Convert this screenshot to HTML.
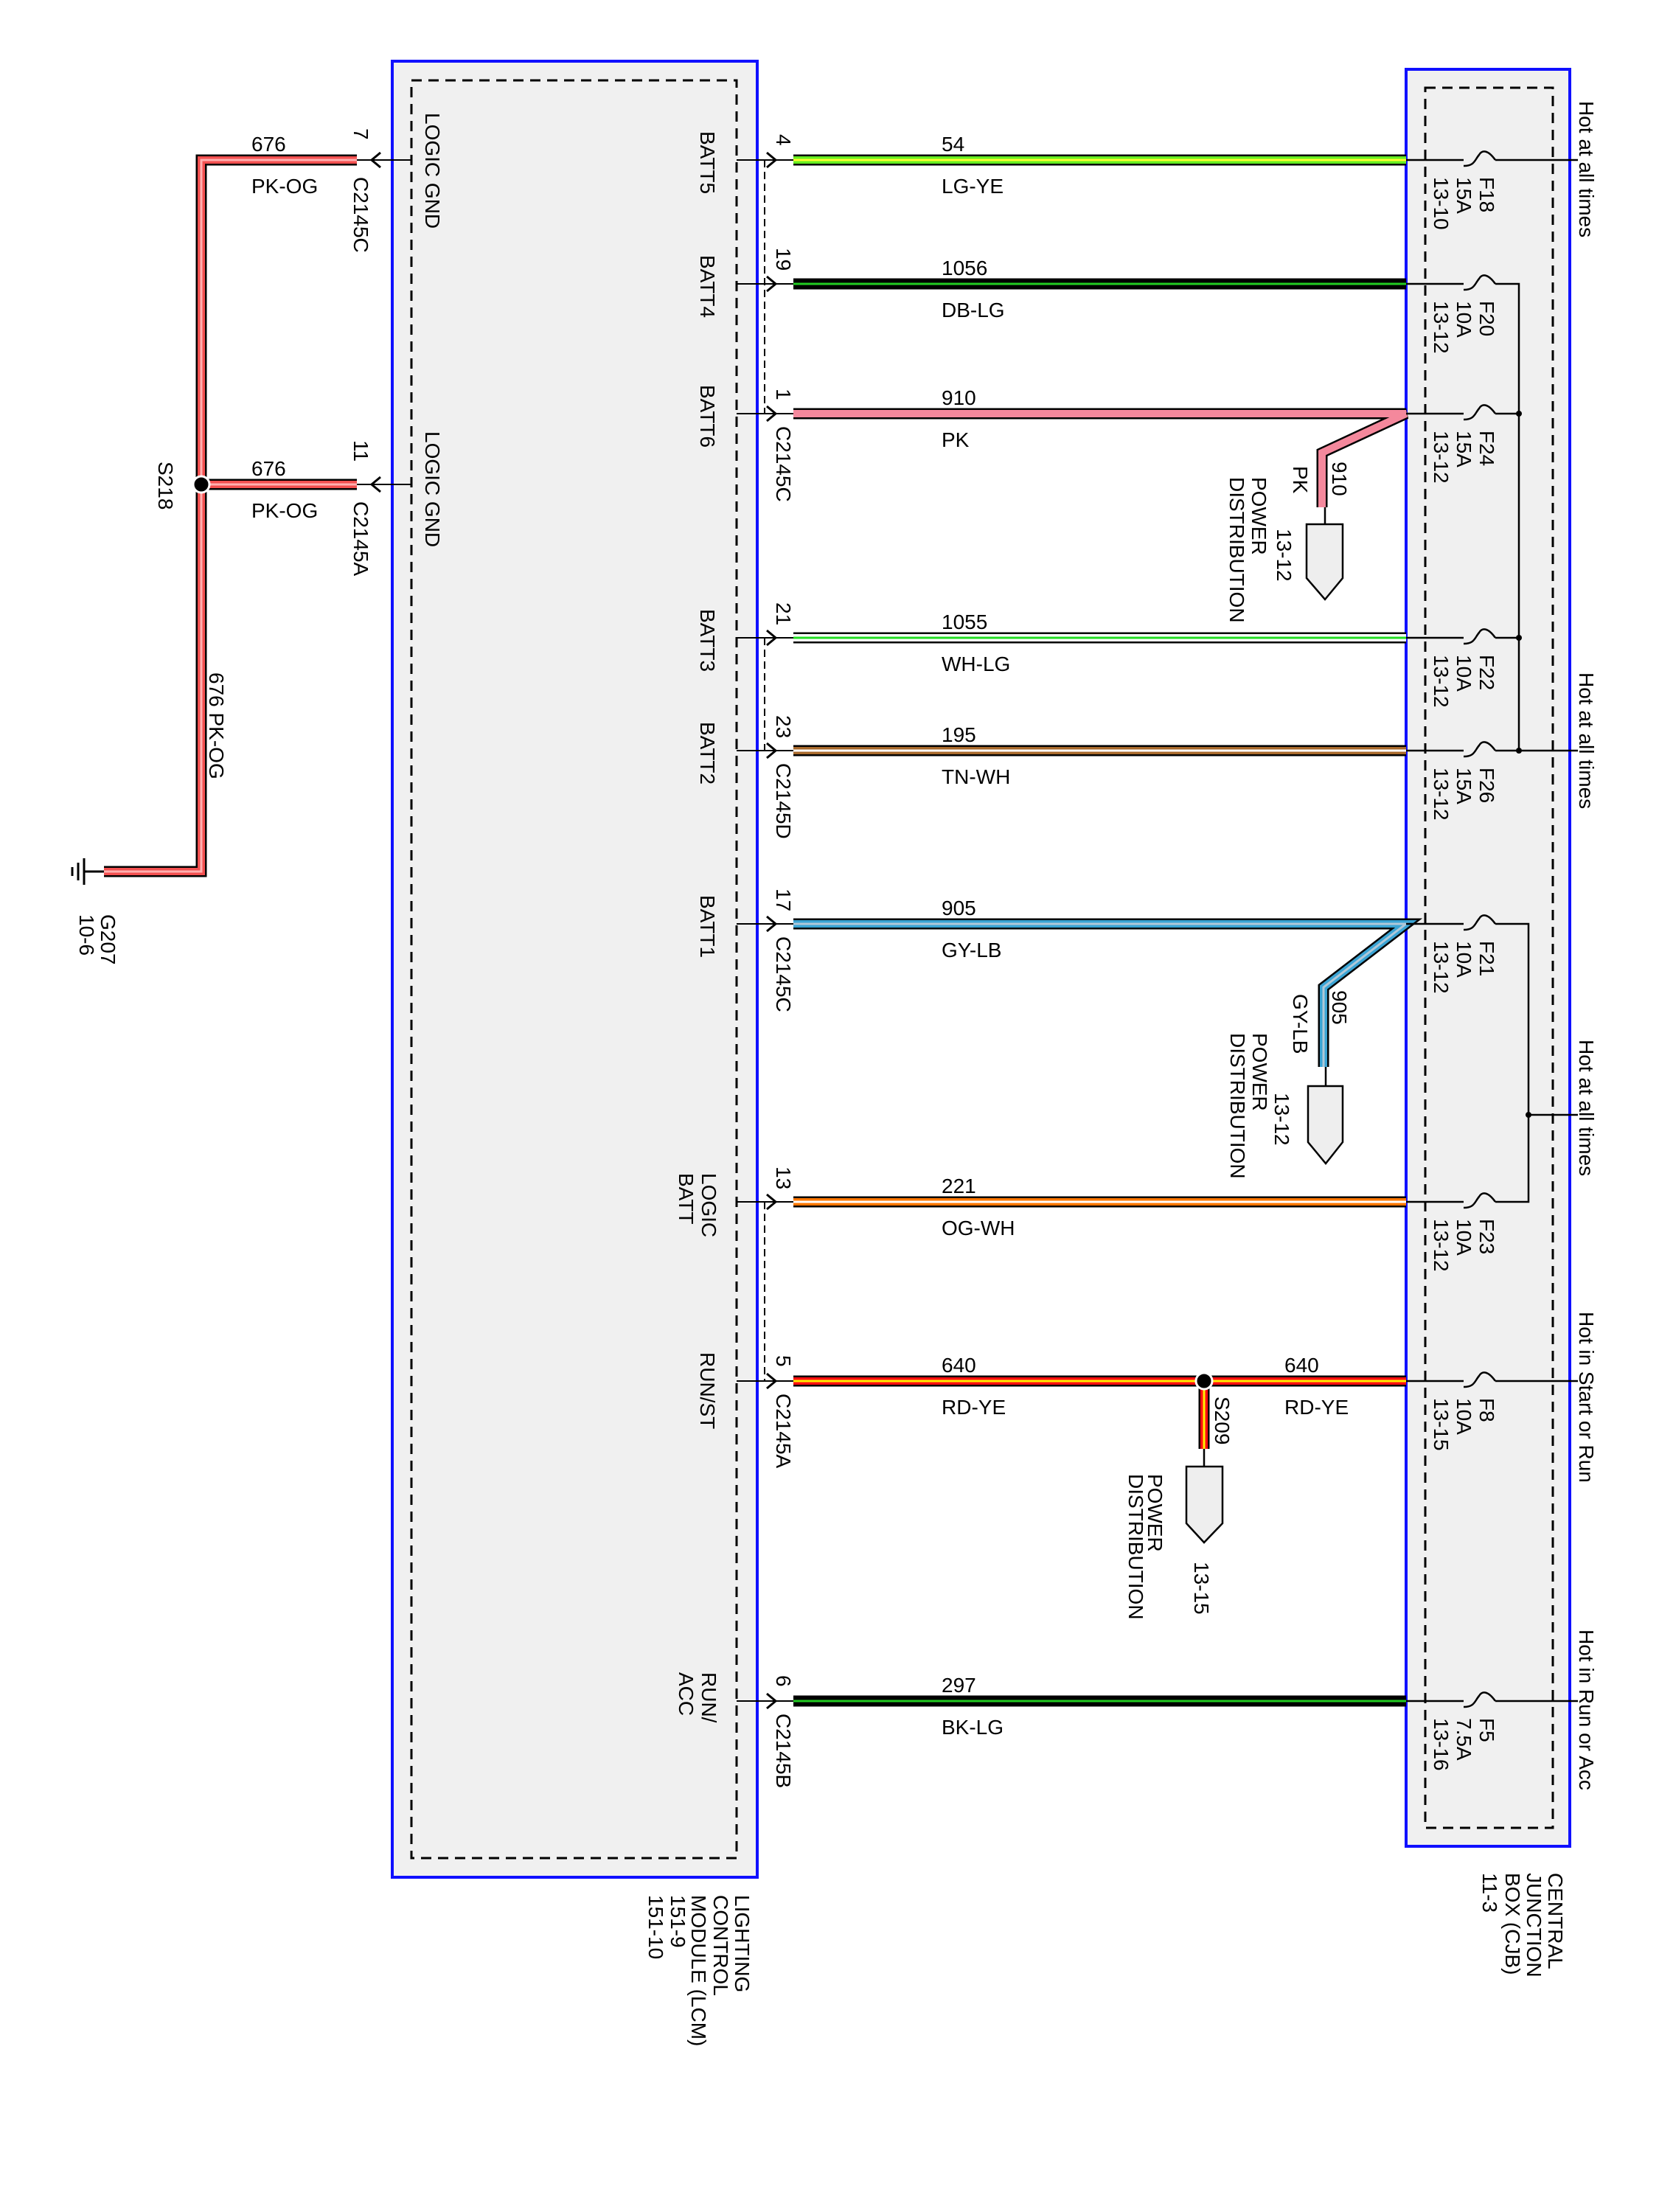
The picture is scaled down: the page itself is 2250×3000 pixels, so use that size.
<!DOCTYPE html>
<html><head><meta charset="utf-8"><style>
html,body{margin:0;padding:0;background:#fff;}
svg{display:block;}
text{font-family:"Liberation Sans",Arial,sans-serif;font-size:28px;fill:#000;}
</style></head><body>
<svg width="2250" height="3000" viewBox="0 0 2250 3000" xmlns="http://www.w3.org/2000/svg">
<!-- boxes -->
<rect x="532" y="83" width="495" height="2463" fill="#f0f0f0" stroke="#1010ff" stroke-width="4"/>
<rect x="558" y="109" width="441" height="2411" fill="none" stroke="#000" stroke-width="3" stroke-dasharray="14,9"/>
<rect x="1907" y="94" width="222" height="2410" fill="#f0f0f0" stroke="#1010ff" stroke-width="4"/>
<rect x="1933" y="119" width="173" height="2360" fill="none" stroke="#000" stroke-width="3" stroke-dasharray="14,9"/>

<!-- dashed connector links -->
<g stroke="#000" stroke-width="2" stroke-dasharray="10,6" fill="none">
<path d="M1037 217V561"/><path d="M1037 865V1018"/><path d="M1037 1630V1873"/>
</g>

<!-- pin stubs right side -->
<g stroke="#000" stroke-width="2" fill="none">
<path d="M999 217H1076M999 385H1076M999 561H1076M999 865H1076M999 1018H1076M999 1253H1076M999 1630H1076M999 1873H1076M999 2307H1076"/>
<path d="M1040 207L1052 217L1040 227M1040 375L1052 385L1040 395M1040 551L1052 561L1040 571M1040 855L1052 865L1040 875M1040 1008L1052 1018L1040 1028M1040 1243L1052 1253L1040 1263M1040 1620L1052 1630L1040 1640M1040 1863L1052 1873L1040 1883M1040 2297L1052 2307L1040 2317" stroke-width="3"/>
<!-- left pins -->
<path d="M484 217H558M484 657H558"/>
<path d="M516 207L504 217L516 227M516 647L504 657L516 667" stroke-width="3"/>
</g>

<!-- wires: black outline -->
<g fill="none" stroke-linejoin="miter">
<g stroke="#000" stroke-width="15">
<path d="M1076 217H1907"/><path d="M1076 385H1907"/><path d="M1076 561H1907L1793 614V688"/>
<path d="M1076 865H1907"/><path d="M1076 1018H1907"/><path d="M1076 1253H1907L1795 1339V1447"/>
<path d="M1076 1630H1907"/><path d="M1076 1873H1907"/><path d="M1633 1873V1965"/><path d="M1076 2307H1907"/>
<path d="M484 217H273V1182H141"/><path d="M484 657H273"/>
</g>
<g stroke-width="10">
<path d="M1076 217H1907" stroke="#66ee22"/>
<path d="M1076 385H1907" stroke="#000"/>
<path d="M1076 561H1907L1793 614V688" stroke="#f4889c"/>
<path d="M1076 865H1907" stroke="#fff"/>
<path d="M1076 1018H1907" stroke="#a86a2c"/>
<path d="M1076 1253H1907L1795 1339V1447" stroke="#3aa4d4"/>
<path d="M1076 1630H1907" stroke="#ff7700"/>
<path d="M1076 1873H1907" stroke="#ff1010"/><path d="M1633 1873V1965" stroke="#ff1010"/>
<path d="M1076 2307H1907" stroke="#000"/>
<path d="M484 217H273V1182H141" stroke="#f25050"/><path d="M484 657H273" stroke="#f25050"/>
</g>
<g stroke-width="3">
<path d="M1076 217H1907" stroke="#ffff30"/>
<path d="M1076 385H1907" stroke="#22cc22"/>
<path d="M1076 865H1907" stroke="#22dd22"/>
<path d="M1076 1018H1907" stroke="#fff"/>
<path d="M1076 1253H1907L1795 1339V1447" stroke="#b0c8d8"/>
<path d="M1076 1630H1907" stroke="#fff"/>
<path d="M1076 1873H1907" stroke="#ffee00"/><path d="M1633 1873V1965" stroke="#ffee00"/>
<path d="M1076 2307H1907" stroke="#22cc22"/>
<path d="M484 217H273V1182H141" stroke="#ffb0b0"/><path d="M484 657H273" stroke="#ffb0b0"/>
</g>
</g>
<circle cx="273" cy="657" r="11" fill="#000" stroke="#fff" stroke-width="3"/>
<circle cx="1633" cy="1873" r="11" fill="#000" stroke="#fff" stroke-width="3"/>

<!-- ground -->
<g stroke="#000" stroke-width="3">
<path d="M141 1182H114M114 1164V1200M106 1170V1194M98 1176V1188"/>
</g>

<!-- connectors (power distribution) -->
<g stroke="#000" stroke-width="2.5" fill="#eee">
<path d="M1797 688V711" fill="none"/><path d="M1772 711H1821V784L1797 813L1772 784Z"/>
<path d="M1798 1447V1473" fill="none"/><path d="M1774 1473H1821V1549L1798 1578L1774 1549Z"/>
<path d="M1633 1965V1989" fill="none"/><path d="M1609 1989H1658V2066L1633 2092L1609 2066Z"/>
</g>

<!-- fuses and CJB internals -->
<g stroke="#000" stroke-width="2.5" fill="none">
<path d="M1907 217H1985M2028 217H2140"/>
<path d="M1907 385H1985M2028 385H2060V1018"/>
<path d="M1907 561H1985M2028 561H2060"/>
<path d="M1907 865H1985M2028 865H2060"/>
<path d="M1907 1018H1985M2028 1018H2140"/>
<path d="M1907 1253H1985M2028 1253H2073V1630H2028M1985 1630H1907"/>
<path d="M2073 1512H2140"/>
<path d="M1907 1873H1985M2028 1873H2140"/>
<path d="M1907 2307H1985M2028 2307H2140"/>
<g id="fz">
<path d="M1985 225C2000 225 2000 217 2006 210C2010 203 2018 203 2028 217" transform="translate(0,0)"/>
</g>
<use href="#fz" transform="translate(0,168)"/>
<use href="#fz" transform="translate(0,344)"/>
<use href="#fz" transform="translate(0,648)"/>
<use href="#fz" transform="translate(0,801)"/>
<use href="#fz" transform="translate(0,1036)"/>
<use href="#fz" transform="translate(0,1413)"/>
<use href="#fz" transform="translate(0,1656)"/>
<use href="#fz" transform="translate(0,2090)"/>
</g>
<g fill="#000">
<circle cx="2060" cy="561" r="4"/><circle cx="2060" cy="865" r="4"/><circle cx="2060" cy="1018" r="4"/><circle cx="2073" cy="1512" r="4"/>
</g>

<!-- horizontal wire labels -->
<g>
<text x="1277" y="205">54</text><text x="1277" y="262">LG-YE</text>
<text x="1277" y="373">1056</text><text x="1277" y="430">DB-LG</text>
<text x="1277" y="549">910</text><text x="1277" y="606">PK</text>
<text x="1277" y="853">1055</text><text x="1277" y="910">WH-LG</text>
<text x="1277" y="1006">195</text><text x="1277" y="1063">TN-WH</text>
<text x="1277" y="1241">905</text><text x="1277" y="1298">GY-LB</text>
<text x="1277" y="1618">221</text><text x="1277" y="1675">OG-WH</text>
<text x="1277" y="1861">640</text><text x="1277" y="1918">RD-YE</text>
<text x="1742" y="1861">640</text><text x="1742" y="1918">RD-YE</text>
<text x="1277" y="2295">297</text><text x="1277" y="2352">BK-LG</text>
<text x="341" y="205">676</text><text x="341" y="262">PK-OG</text>
<text x="341" y="645">676</text><text x="341" y="702">PK-OG</text>
</g>

<!-- rotated labels: translate(baselineX, startY) rotate(90) -->
<g>
<!-- pin names -->
<text transform="translate(950,178) rotate(90)">BATT5</text>
<text transform="translate(950,346) rotate(90)">BATT4</text>
<text transform="translate(950,522) rotate(90)">BATT6</text>
<text transform="translate(950,826) rotate(90)">BATT3</text>
<text transform="translate(950,979) rotate(90)">BATT2</text>
<text transform="translate(950,1214) rotate(90)">BATT1</text>
<text transform="translate(952,1591) rotate(90)">LOGIC</text>
<text transform="translate(921,1591) rotate(90)">BATT</text>
<text transform="translate(950,1834) rotate(90)">RUN/ST</text>
<text transform="translate(952,2268) rotate(90)">RUN/</text>
<text transform="translate(921,2268) rotate(90)">ACC</text>
<text transform="translate(577,153) rotate(90)">LOGIC GND</text>
<text transform="translate(577,585) rotate(90)">LOGIC GND</text>
<!-- pin numbers & connectors -->
<text transform="translate(1053,182) rotate(90)">4</text>
<text transform="translate(1053,336) rotate(90)">19</text>
<text transform="translate(1053,527) rotate(90)">1</text>
<text transform="translate(1053,578) rotate(90)">C2145C</text>
<text transform="translate(1053,817) rotate(90)">21</text>
<text transform="translate(1053,970) rotate(90)">23</text>
<text transform="translate(1053,1035) rotate(90)">C2145D</text>
<text transform="translate(1053,1205) rotate(90)">17</text>
<text transform="translate(1053,1270) rotate(90)">C2145C</text>
<text transform="translate(1053,1582) rotate(90)">13</text>
<text transform="translate(1053,1838) rotate(90)">5</text>
<text transform="translate(1053,1890) rotate(90)">C2145A</text>
<text transform="translate(1053,2272) rotate(90)">6</text>
<text transform="translate(1053,2324) rotate(90)">C2145B</text>
<text transform="translate(480,174) rotate(90)">7</text>
<text transform="translate(480,240) rotate(90)">C2145C</text>
<text transform="translate(480,597) rotate(90)">11</text>
<text transform="translate(480,680) rotate(90)">C2145A</text>
<text transform="translate(284,912) rotate(90)">676  PK-OG</text>
<text transform="translate(215,626) rotate(90)">S218</text>
<text transform="translate(137,1240) rotate(90)">G207</text>
<text transform="translate(108,1240) rotate(90)">10-6</text>
<!-- fuse labels -->
<g id="fl">
</g>
<text transform="translate(2007,240) rotate(90)">F18</text><text transform="translate(1976,240) rotate(90)">15A</text><text transform="translate(1945,240) rotate(90)">13-10</text>
<text transform="translate(2007,408) rotate(90)">F20</text><text transform="translate(1976,408) rotate(90)">10A</text><text transform="translate(1945,408) rotate(90)">13-12</text>
<text transform="translate(2007,584) rotate(90)">F24</text><text transform="translate(1976,584) rotate(90)">15A</text><text transform="translate(1945,584) rotate(90)">13-12</text>
<text transform="translate(2007,888) rotate(90)">F22</text><text transform="translate(1976,888) rotate(90)">10A</text><text transform="translate(1945,888) rotate(90)">13-12</text>
<text transform="translate(2007,1041) rotate(90)">F26</text><text transform="translate(1976,1041) rotate(90)">15A</text><text transform="translate(1945,1041) rotate(90)">13-12</text>
<text transform="translate(2007,1276) rotate(90)">F21</text><text transform="translate(1976,1276) rotate(90)">10A</text><text transform="translate(1945,1276) rotate(90)">13-12</text>
<text transform="translate(2007,1653) rotate(90)">F23</text><text transform="translate(1976,1653) rotate(90)">10A</text><text transform="translate(1945,1653) rotate(90)">13-12</text>
<text transform="translate(2007,1896) rotate(90)">F8</text><text transform="translate(1976,1896) rotate(90)">10A</text><text transform="translate(1945,1896) rotate(90)">13-15</text>
<text transform="translate(2007,2330) rotate(90)">F5</text><text transform="translate(1976,2330) rotate(90)">7.5A</text><text transform="translate(1945,2330) rotate(90)">13-16</text>
<!-- hot labels -->
<text transform="translate(2142,137) rotate(90)">Hot at all times</text>
<text transform="translate(2142,912) rotate(90)">Hot at all times</text>
<text transform="translate(2142,1410) rotate(90)">Hot at all times</text>
<text transform="translate(2142,1779) rotate(90)">Hot in Start or Run</text>
<text transform="translate(2142,2210) rotate(90)">Hot in Run or Acc</text>
<!-- power distribution labels -->
<text transform="translate(1807,626) rotate(90)" font-size="24">910</text>
<text transform="translate(1754,632) rotate(90)">PK</text>
<text transform="translate(1732,717) rotate(90)">13-12</text>
<text transform="translate(1698,647) rotate(90)">POWER</text>
<text transform="translate(1668,647) rotate(90)">DISTRIBUTION</text>
<text transform="translate(1807,1343) rotate(90)" font-size="24">905</text>
<text transform="translate(1754,1348) rotate(90)">GY-LB</text>
<text transform="translate(1729,1482) rotate(90)">13-12</text>
<text transform="translate(1699,1401) rotate(90)">POWER</text>
<text transform="translate(1669,1401) rotate(90)">DISTRIBUTION</text>
<text transform="translate(1648,1894) rotate(90)">S209</text>
<text transform="translate(1557,1999) rotate(90)">POWER</text>
<text transform="translate(1531,1999) rotate(90)">DISTRIBUTION</text>
<text transform="translate(1620,2118) rotate(90)">13-15</text>
<!-- box labels -->
<text transform="translate(997,2570) rotate(90)">LIGHTING</text>
<text transform="translate(968,2570) rotate(90)">CONTROL</text>
<text transform="translate(938,2570) rotate(90)">MODULE (LCM)</text>
<text transform="translate(910,2570) rotate(90)">151-9</text>
<text transform="translate(880,2570) rotate(90)">151-10</text>
<text transform="translate(2100,2540) rotate(90)">CENTRAL</text>
<text transform="translate(2071,2540) rotate(90)">JUNCTION</text>
<text transform="translate(2042,2540) rotate(90)">BOX (CJB)</text>
<text transform="translate(2011,2540) rotate(90)">11-3</text>
</g>
</svg>
</body></html>
